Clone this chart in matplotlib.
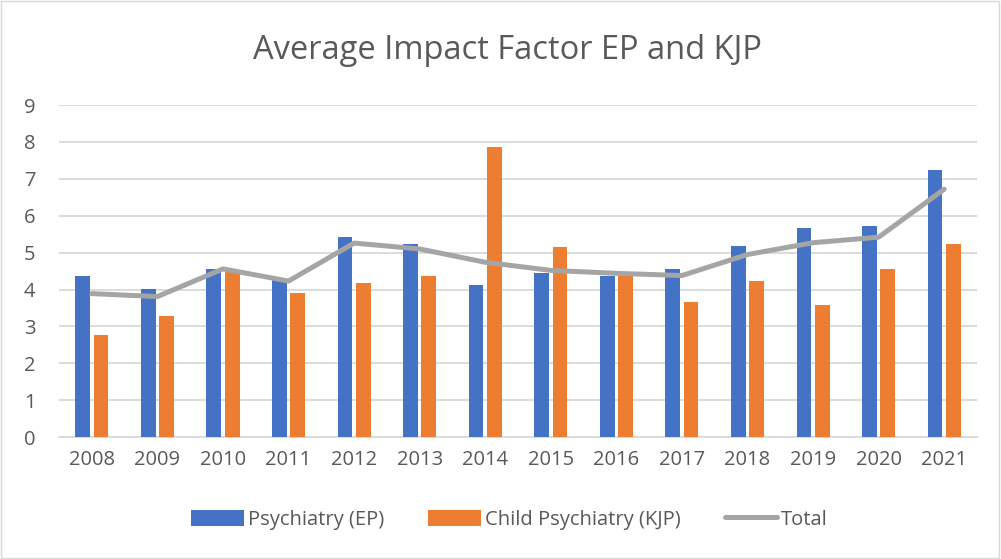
"""Average impact factor per year, adult vs child psychiatry journals."""

import numpy as np
import matplotlib
matplotlib.use('Agg')
from matplotlib import pyplot as plot
from matplotlib.patches import Rectangle

years = ['2008', '2009', '2010', '2011', '2012', '2013', '2014',
         '2015', '2016', '2017', '2018', '2019', '2020', '2021']
ep = [4.38, 4.02, 4.55, 4.25, 5.43, 5.24, 4.13,
      4.44, 4.38, 4.55, 5.17, 5.67, 5.73, 7.25]
kjp = [2.76, 3.29, 4.50, 3.92, 4.18, 4.36, 7.87,
       5.16, 4.36, 3.66, 4.23, 3.57, 4.56, 5.24]
total = [3.89, 3.81, 4.56, 4.23, 5.26, 5.10, 4.74,
         4.52, 4.44, 4.38, 4.95, 5.27, 5.42, 6.72]

BLUE = '#4472C4'
ORANGE = '#ED7D31'
GRAY = '#A5A5A5'
TEXT = '#595959'
GRID = '#D9D9D9'

plot.rcParams['font.family'] = ['Open Sans', 'DejaVu Sans']

figure = plot.figure(figsize=(10.01, 5.59), dpi=100)
figure.set_facecolor('white')
figure.patches.append(Rectangle((0.001, 0.001), 0.997, 0.997, transform=figure.transFigure,
                                fill=False, edgecolor=GRID, lw=1))
ax = figure.add_axes([0.059, 0.218, 0.917, 0.594])

x = np.arange(len(years))
bars_ep = ax.bar(x - 0.14, ep, width=0.225, color=BLUE, label='Psychiatry (EP)', zorder=3)
bars_kjp = ax.bar(x + 0.14, kjp, width=0.225, color=ORANGE, label='Child Psychiatry (KJP)', zorder=3)
line, = ax.plot(x, total, color=GRAY, lw=3.6, solid_capstyle='round', label='Total', zorder=4)

ax.set_xlim(-0.5, len(years) - 0.5)
ax.set_ylim(0, 9)
ax.set_yticks(range(10))
ax.set_xticks(x)
ax.set_xticklabels(years)
ax.grid(True, axis='y', color=GRID, lw=1.3, zorder=0)
for side in 'top', 'left', 'right':
    ax.spines[side].set_visible(False)
ax.spines['bottom'].set_color(GRID)
ax.spines['bottom'].set_linewidth(1.3)
ax.tick_params(axis='both', length=0, labelsize=14.5, colors=TEXT, pad=9)
ax.tick_params(axis='y', pad=17)

figure.text(0.507, 0.91, 'Average Impact Factor EP and KJP', ha='center', va='center',
            fontsize=23.5, color=TEXT)

legend = figure.legend([bars_ep, bars_kjp, line], ['Psychiatry (EP)', 'Child Psychiatry (KJP)', 'Total'],
                       loc='center', bbox_to_anchor=(0.509, 0.07), ncol=3, frameon=False,
                       fontsize=14.5, handlelength=2.6, handleheight=0.85, columnspacing=2.2,
                       handletextpad=0.2)
for text in legend.get_texts():
    text.set_color(TEXT)

figure.savefig('out.png', dpi=100)
